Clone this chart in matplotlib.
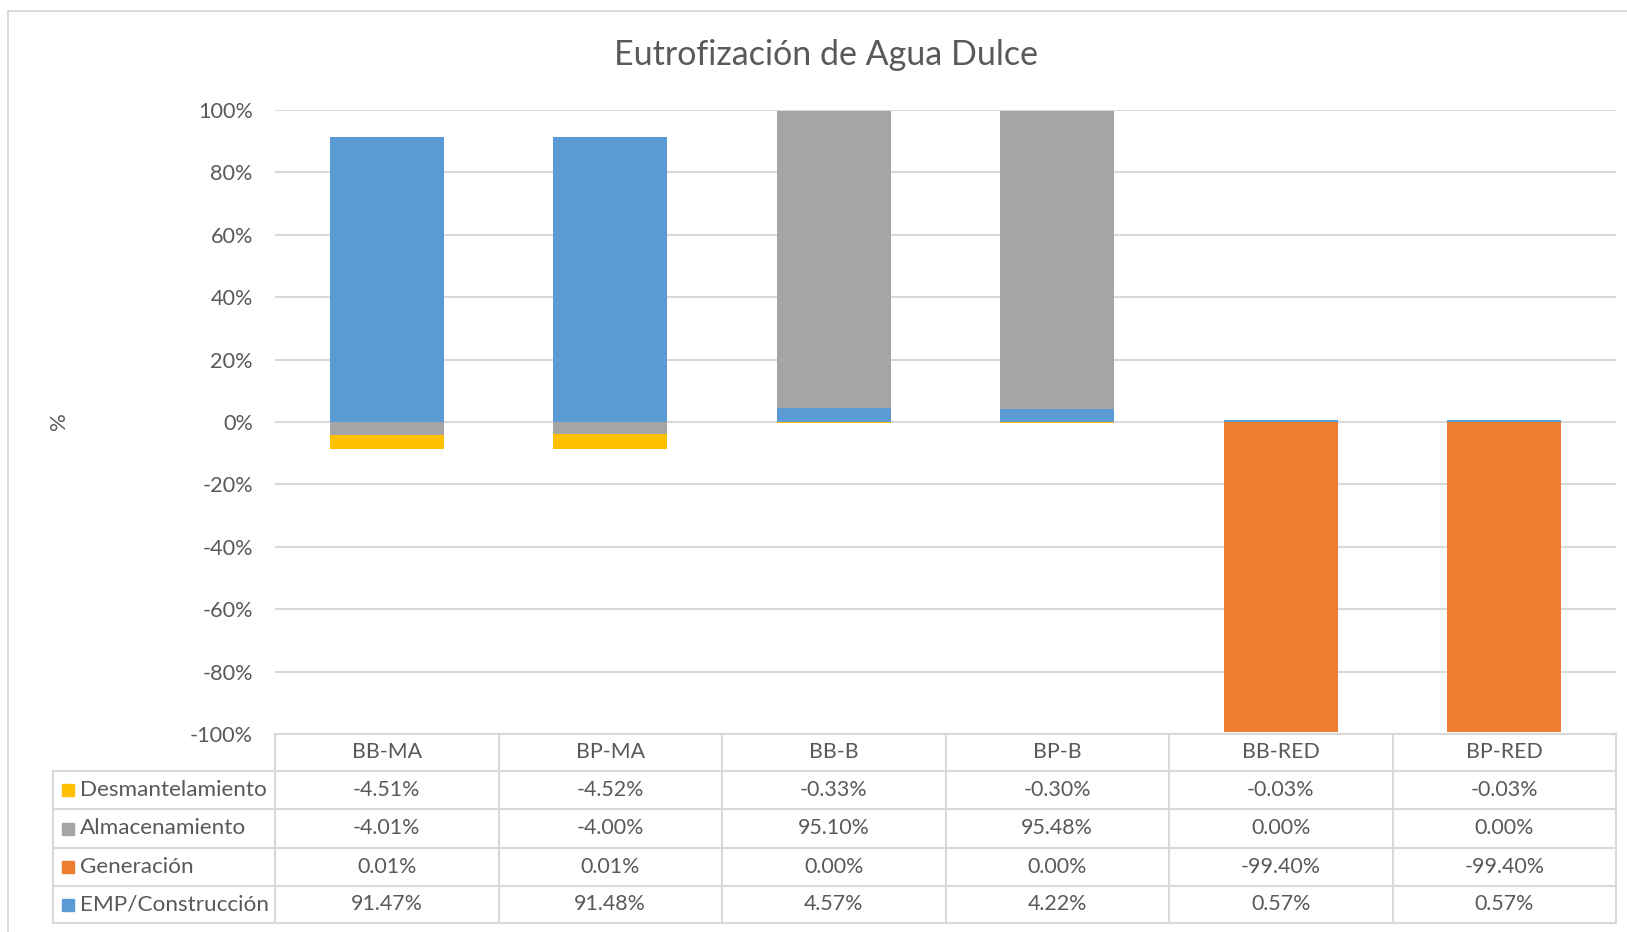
import matplotlib
matplotlib.use("Agg")
import matplotlib.pyplot as plt
import numpy as np
from matplotlib.lines import Line2D
from matplotlib.patches import Rectangle

# ---------------- data ----------------
categories = ["BB-MA", "BP-MA", "BB-B", "BP-B", "BB-RED", "BP-RED"]
desmantelamiento = [-4.51, -4.52, -0.33, -0.30, -0.03, -0.03]
almacenamiento = [-4.01, -4.00, 95.10, 95.48, 0.00, 0.00]
generacion = [0.01, 0.01, 0.00, 0.00, -99.40, -99.40]
emp_construccion = [91.47, 91.48, 4.57, 4.22, 0.57, 0.57]
yticks = [-100, -80, -60, -40, -20, 0, 20, 40, 60, 80, 100]
title = "Eutrofización de Agua Dulce"

# table rows (top to bottom) and stacking order (bottom-up, Excel style)
table_rows = [("Desmantelamiento", desmantelamiento, "#FFC000"),
              ("Almacenamiento", almacenamiento, "#A5A5A5"),
              ("Generación", generacion, "#ED7D31"),
              ("EMP/Construcción", emp_construccion, "#5B9BD5")]
stack_order = [3, 2, 1, 0]

FONT = "Lato"
TXT = "#595959"
GRID = "#D9D9D9"
W, H = 1627, 932

fig = plt.figure(figsize=(W / 100, H / 100), dpi=100)
fig.patch.set_facecolor("white")


def fx(px):
    return px / W


def fy(py):
    return 1 - py / H


# outer border
fig.add_artist(Line2D([fx(8), fx(8)], [fy(11), fy(932)], color=GRID, lw=1.3))
fig.add_artist(Line2D([fx(8), fx(1627)], [fy(11), fy(11)], color=GRID, lw=1.3))

# ---------------- main plot ----------------
L, R, T, B = 275, 1616, 110, 734
ax = fig.add_axes([fx(L), fy(B), fx(R - L), (B - T) / H])
ax.set_xlim(-0.5, len(categories) - 0.5)
ax.set_ylim(-100, 100)
for s in ax.spines.values():
    s.set_visible(False)
ax.set_yticks(yticks)
ax.set_yticklabels([f"{v}%" for v in yticks], fontsize=15.6, color=TXT, family=FONT)
ax.tick_params(axis="y", length=0, pad=16)
ax.set_xticks([])
for v in yticks:
    ax.axhline(v, color=GRID, lw=1.5, zorder=0)

x = np.arange(len(categories))
pos_bottom = np.zeros(len(categories))
neg_bottom = np.zeros(len(categories))
for i in stack_order:
    name, vals, col = table_rows[i]
    vals = np.array(vals, dtype=float)
    bottoms = np.where(vals >= 0, pos_bottom, neg_bottom)
    ax.bar(x, vals, 0.51, bottom=bottoms, color=col, edgecolor="none", zorder=2)
    pos_bottom = pos_bottom + np.where(vals >= 0, vals, 0)
    neg_bottom = neg_bottom + np.where(vals < 0, vals, 0)

fig.text(fx(59), fy(421), "%", rotation=90, ha="center", va="center",
         fontsize=16, color=TXT, family=FONT)
fig.text(fx(826), fy(55), title, ha="center", va="center",
         fontsize=24.5, color=TXT, family=FONT)

# ---------------- data table ----------------
TL, TR, TT, TB = 53, 1616, 734, 923
unit = (R - L) / len(categories)
xleft = -0.5 - (L - TL) / unit
tax = fig.add_axes([fx(TL), fy(TB), fx(TR - TL), (TB - TT) / H])
tax.set_xlim(xleft, len(categories) - 0.5)
tax.set_ylim(TB, TT)
tax.axis("off")
row_y = [734, 771, 809, 848, 886, 923]
for k in range(len(categories) + 1):
    tax.plot([k - 0.5, k - 0.5], [TT, TB], color=GRID, lw=1.5, clip_on=False)
tax.plot([xleft, xleft], [row_y[1], TB], color=GRID, lw=1.5, clip_on=False)
for j, yy in enumerate(row_y):
    x0 = -0.5 if j == 0 else xleft
    tax.plot([x0, len(categories) - 0.5], [yy, yy], color=GRID, lw=1.5, clip_on=False)
for k, c in enumerate(categories):
    tax.text(k, (row_y[0] + row_y[1]) / 2, c, ha="center", va="center",
             fontsize=15.4, color=TXT, family=FONT)
for r, (name, vals, col) in enumerate(table_rows):
    yc = (row_y[r + 1] + row_y[r + 2]) / 2
    for k, v in enumerate(vals):
        tax.text(k, yc, f"{v:.2f}%", ha="center", va="center",
                 fontsize=15.4, color=TXT, family=FONT)
    sq = 12 / unit
    tax.add_patch(Rectangle((xleft + 9 / unit, yc - 6), sq, 12, color=col,
                            clip_on=False))
    tax.text(xleft + 27 / unit, yc, name, ha="left", va="center",
             fontsize=16.2, color=TXT, family=FONT)

fig.savefig("out.png", dpi=100, facecolor="white")
